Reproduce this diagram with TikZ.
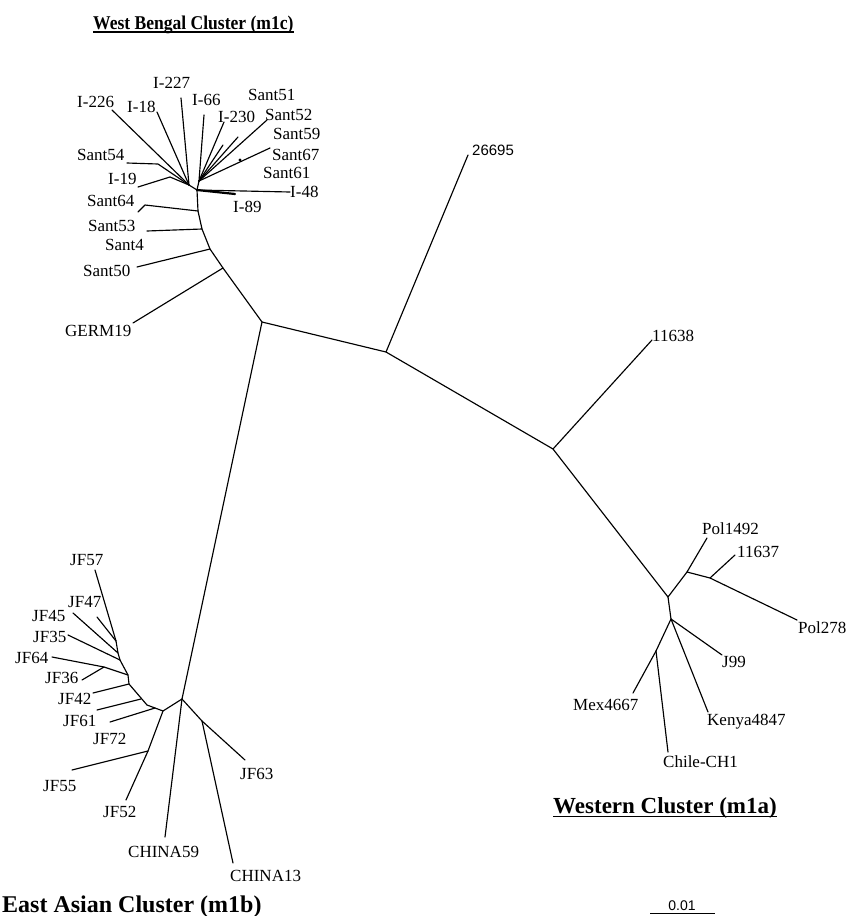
\documentclass[tikz,border=0pt]{standalone}
\usepackage{graphicx}
\usepackage{fontspec}
\setmainfont{Liberation Serif}
\newfontfamily\sansf{Liberation Sans}
\begin{document}
\begin{tikzpicture}[x=1pt,y=-1pt,
  br/.style={line width=1.15pt,line join=round,line cap=round},
  lab/.style={font=\fontsize{17}{17}\selectfont,inner sep=0pt,anchor=base west},
  slab/.style={font=\sansf\fontsize{15}{15}\selectfont,inner sep=0pt,anchor=base west},
  ttl/.style={font=\bfseries\fontsize{23}{24}\selectfont,inner sep=0pt,anchor=base west},
  ul/.style={line width=1.3pt}]
\useasboundingbox (0,0) rectangle (854,916);
% ---------- backbone coordinates
\coordinate (A) at (262,322);
\coordinate (B) at (386,352);
\coordinate (C) at (553,449);
\coordinate (L26695) at (468,155);
\coordinate (L11638) at (652,340);
% ---------- West Bengal
\coordinate (G) at (223,268);
\coordinate (S50) at (210,249);
\coordinate (S53) at (202,229);
\coordinate (S64) at (198,211);
\coordinate (H) at (197,190);
\coordinate (H0) at (189,185);
\coordinate (H1) at (199,181);
\coordinate (LGERM) at (133,323);
\coordinate (LS50) at (137,267);
\coordinate (LS53) at (147,231);
\coordinate (KS64) at (145,205);
\coordinate (LS64) at (138,212);
\coordinate (LI226) at (112,110);
\coordinate (KS54) at (158,164);
\coordinate (LS54) at (127,163);
\coordinate (KI19) at (170,177);
\coordinate (LI19) at (138,187);
\coordinate (LI18) at (157,112);
\coordinate (LI227) at (181,98);
\coordinate (LI66) at (204,115);
\coordinate (LI230) at (224,122);
\coordinate (LS51) at (238,137);
\coordinate (LX) at (223,145);
\coordinate (LS52) at (267,120);
\coordinate (LS67) at (270,148);
\coordinate (DS67) at (240,160);
\coordinate (LI48) at (290,192);
\coordinate (LI89) at (235,194);
% ---------- Western
\coordinate (W1) at (668,597);
\coordinate (P) at (687,572);
\coordinate (Q) at (710,578);
\coordinate (W2) at (671,619);
\coordinate (M) at (656,651);
\coordinate (LP1492) at (707,538);
\coordinate (L11637) at (735,555);
\coordinate (LP278) at (797,620);
\coordinate (LJ99) at (722,655);
\coordinate (LKen) at (708,712);
\coordinate (LMex) at (633,693);
\coordinate (LChile) at (668,752);
% ---------- East Asian
\coordinate (E) at (182,699);
\coordinate (F) at (202,721);
\coordinate (J) at (163,711);
\coordinate (K) at (148,751);
\coordinate (R) at (155,708);
\coordinate (Mj) at (147,705);
\coordinate (N1) at (129,684);
\coordinate (N2) at (128,675);
\coordinate (N3) at (120,660);
\coordinate (N4) at (118,653);
\coordinate (T) at (116,641);
\coordinate (N5) at (141,699);
\coordinate (KJ64) at (104,667);
\coordinate (LJF57) at (95,570);
\coordinate (LJF47) at (97,617);
\coordinate (LJF45) at (73,613);
\coordinate (LJF35) at (68,635);
\coordinate (LJF64) at (52,657);
\coordinate (LJF36) at (82,680);
\coordinate (LJF42) at (93,693);
\coordinate (LJF61) at (97,710);
\coordinate (LJF72) at (110,722);
\coordinate (LJF55) at (72,770);
\coordinate (LJF52) at (126,800);
\coordinate (LC59) at (165,837);
\coordinate (LC13) at (233,863);
\coordinate (LJF63) at (245,760);
% ---------- branches
\draw[br] (A) -- (B) -- (C) -- (W1);
\draw[br] (B) -- (L26695);
\draw[br] (C) -- (L11638);
\draw[br] (A) -- (G) -- (S50) -- (S53) -- (S64) -- (H);
\draw[br] (G) -- (LGERM);
\draw[br] (S50) -- (LS50);
\draw[br] (S53) -- (LS53);
\draw[br] (S64) -- (KS64) -- (LS64);
\draw[br] (H) -- (H0);
\draw[br] (H) -- (H1);
\draw[br] (H0) -- (LI226);
\draw[br] (H0) -- (KS54) -- (LS54);
\draw[br] (H0) -- (KI19) -- (LI19);
\draw[br] (H0) -- (LI18);
\draw[br] (H0) -- (LI227);
\draw[br] (H1) -- (LI66);
\draw[br] (H1) -- (LI230);
\draw[br] (H1) -- (LS51);
\draw[br] (H1) -- (LX);
\draw[br] (H1) -- (LS52);
\draw[br] (H1) -- (LS67);
\fill (DS67) circle (1.6);
\draw[br] (H) -- (LI48);
\draw[br,line width=2.2pt] (H) -- (LI89);
% Western
\draw[br] (W1) -- (P) -- (LP1492);
\draw[br] (P) -- (Q) -- (LP278);
\draw[br] (Q) -- (L11637);
\draw[br] (W1) -- (W2);
\draw[br] (W2) -- (LJ99);
\draw[br] (W2) -- (LKen);
\draw[br] (W2) -- (M) -- (LMex);
\draw[br] (M) -- (LChile);
% East Asian
\draw[br] (A) -- (E);
\draw[br] (E) -- (F) -- (LJF63);
\draw[br] (F) -- (LC13);
\draw[br] (E) -- (LC59);
\draw[br] (E) -- (J) -- (K) -- (LJF55);
\draw[br] (K) -- (LJF52);
\draw[br] (J) -- (R) -- (Mj) -- (N1) -- (N2) -- (N3) -- (N4) -- (T);
\draw[br] (R) -- (LJF72);
\draw[br] (N5) -- (LJF61);
\draw[br] (N1) -- (LJF42);
\draw[br] (N2) -- (KJ64) -- (LJF64);
\draw[br] (KJ64) -- (LJF36);
\draw[br] (N3) -- (LJF35);
\draw[br] (N4) -- (LJF45);
\draw[br] (T) -- (LJF47);
\draw[br] (T) -- (LJF57);
% ---------- labels
\node[lab] (tI226) at (77,107) {I-226};
\node[lab] (tI18) at (127,112) {I-18};
\node[lab] (tI227) at (153,88) {I-227};
\node[lab] (tI66) at (192,105) {I-66};
\node[lab] (tI230) at (218,122) {I-230};
\node[lab] (tS51) at (248,100) {Sant51};
\node[lab] (tS52) at (265,120) {Sant52};
\node[lab] (tS59) at (273,139) {Sant59};
\node[lab] (tS67) at (272,160) {Sant67};
\node[lab] (tS61) at (263,178) {Sant61};
\node[lab] (tI48) at (290,197) {I-48};
\node[lab] (tI89) at (233,212) {I-89};
\node[lab] (tS54) at (77,160) {Sant54};
\node[lab] (tI19) at (108,184) {I-19};
\node[lab] (tS64) at (87,206) {Sant64};
\node[lab] (tS53) at (88,231) {Sant53};
\node[lab] (tS4) at (105,250) {Sant4};
\node[lab] (tS50) at (83,276) {Sant50};
\node[lab] (tGERM) at (65,336) {GERM19};
\node[slab] (t26695) at (472,155) {26695};
\node[lab] (t11638) at (652,341) {11638};
\node[lab] (tP1492) at (702,534) {Pol1492};
\node[lab] (t11637) at (737,557) {11637};
\node[lab] (tP278) at (798,633) {Pol278};
\node[lab] (tJ99) at (722,667) {J99};
\node[lab] (tKen) at (707,725) {Kenya4847};
\node[lab] (tMex) at (573,710) {Mex4667};
\node[lab] (tChile) at (663,767) {Chile-CH1};
\node[lab] (tJF57) at (70,565) {JF57};
\node[lab] (tJF47) at (68,607) {JF47};
\node[lab] (tJF45) at (32,621) {JF45};
\node[lab] (tJF35) at (33,642) {JF35};
\node[lab] (tJF64) at (15,663) {JF64};
\node[lab] (tJF36) at (45,683) {JF36};
\node[lab] (tJF42) at (58,704) {JF42};
\node[lab] (tJF61) at (63,726) {JF61};
\node[lab] (tJF72) at (93,744) {JF72};
\node[lab] (tJF55) at (43,791) {JF55};
\node[lab] (tJF52) at (103,817) {JF52};
\node[lab] (tC59) at (128,857) {CHINA59};
\node[lab] (tC13) at (230,881) {CHINA13};
\node[lab] (tJF63) at (240,779) {JF63};
% ---------- titles
\node[ttl,font=\bfseries\fontsize{19.5}{20}\selectfont] (ttWB) at (93,29) {\scalebox{0.9}[1]{West Bengal Cluster (m1c)}};
\draw[ul] ([yshift=-3pt]ttWB.base west) -- ([yshift=-3pt]ttWB.base east);
\node[ttl] (ttW) at (553,813) {Western Cluster (m1a)};
\draw[ul] ([yshift=-3.5pt]ttW.base west) -- ([yshift=-3.5pt]ttW.base east);
\node[ttl,font=\bfseries\fontsize{24}{25}\selectfont] (ttEA) at (2,912) {East Asian Cluster (m1b)};
% ---------- scale bar
\node[font=\sansf\fontsize{14}{14}\selectfont,inner sep=0pt,anchor=base] (tsc) at (682,910) {0.01};
\coordinate (sb1) at (650,913.5);
\coordinate (sb2) at (715,913.5);
\draw[line width=1pt] (sb1) -- (sb2);
\end{tikzpicture}
\end{document}
